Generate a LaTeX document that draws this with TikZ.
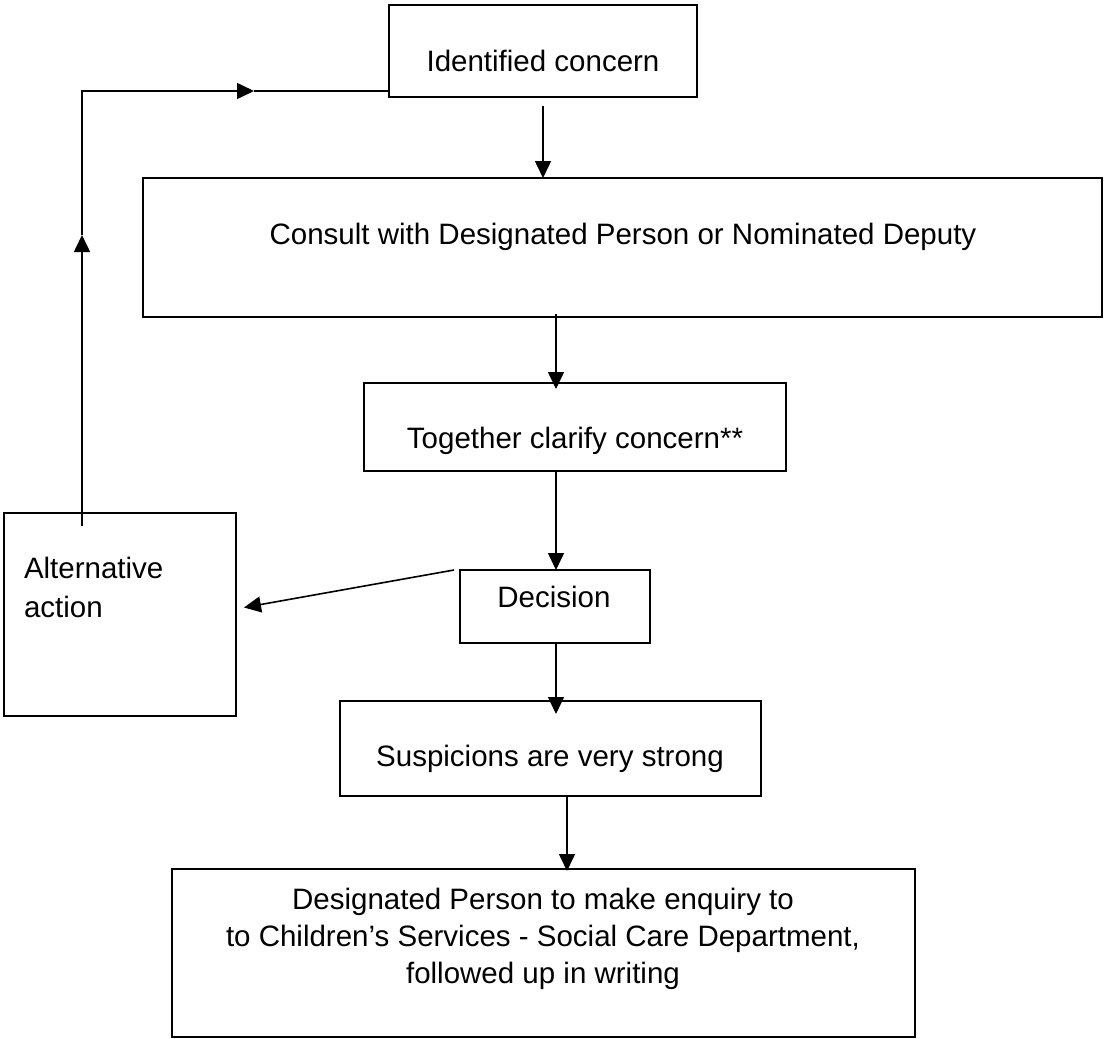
\documentclass[tikz,border=0pt]{standalone}
\usepackage{fontspec}
\setmainfont{Liberation Sans}
\usetikzlibrary{arrows.meta}
\begin{document}
\begin{tikzpicture}[x=1pt,y=-1pt,
  box/.style={draw,line width=1.8pt,inner sep=0pt,outer sep=0pt,rectangle},
  thickbox/.style={box,line width=2.4pt},
  txt/.style={inner sep=0pt,outer sep=0pt,anchor=base,font=\fontsize{29.5}{37}\selectfont},
  conn/.style={line width=1.6pt},
  arr/.style={conn,-{Triangle[length=17pt,width=16pt]}}]
\useasboundingbox[fill=white] (0,0) rectangle (1104,1039);

% boxes
\node[thickbox,minimum width=308pt,minimum height=92pt] (ident) at (543,51) {};
\node[box,minimum width=959pt,minimum height=139pt] (consult) at (622.5,247.5) {};
\node[box,minimum width=422pt,minimum height=88pt] (tog) at (575,427) {};
\node[box,minimum width=190pt,minimum height=73pt] (dec) at (555,606.5) {};
\node[box,minimum width=232pt,minimum height=203pt] (alt) at (120,614.5) {};
\node[box,minimum width=421pt,minimum height=95pt] (susp) at (550.5,748.5) {};
\node[thickbox,minimum width=743pt,minimum height=168pt] (final) at (543.5,953) {};

% texts
\node[txt] (identt) at (543,71) {Identified concern};
\node[txt] (consultt) at (623,244) {Consult with Designated Person or Nominated Deputy};
\node[txt] (togt) at (575,448) {Together clarify concern**};
\node[txt] (dect) at (554,607) {Decision};
\node[txt,anchor=base west,font=\fontsize{29.5}{39}\selectfont] (altt) at (24,578)
  {\begin{tabular}[t]{@{}l@{}}Alternative\\action\end{tabular}};
\node[txt] (suspt) at (550,766) {Suspicions are very strong};
\node[txt] (finalt) at (543,909)
  {\begin{tabular}[t]{@{}c@{}}Designated Person to make enquiry to\\to Children’s Services - Social Care Department,\\followed up in writing\end{tabular}};

% axis helpers
\coordinate (ax1) at (556,0);
\coordinate (ax2) at (567,0);

% connectors
\draw[arr] ([yshift=-9pt]ident.south) -- (consult.north -| ident.south);
\draw[arr] ([yshift=3pt]consult.south -| ax1) -- ([yshift=-6pt]tog.north -| ax1);
\draw[arr] (tog.south -| ax1) -- (dec.north -| ax1);
\draw[arr] ([xshift=-6pt]dec.north west) -- ([xshift=8pt,yshift=7pt]alt.east);
\draw[arr] (dec.south -| ax1) -- ([yshift=-13pt]susp.north -| ax1);
\draw[arr] (susp.south -| ax2) -- ([yshift=-2pt]final.north -| ax2);

% feedback loop
\coordinate (lp1) at (82,526);
\coordinate (lp2) at (82,235);
\coordinate (lp3) at (82,91);
\coordinate (lp4) at (254,91);
\draw[arr] (lp1) -- (lp2);
\draw[arr] (lp2) -- (lp3) -- (lp4);
\draw[conn] (lp4) -- (ident.west |- lp3);
\end{tikzpicture}
\end{document}
